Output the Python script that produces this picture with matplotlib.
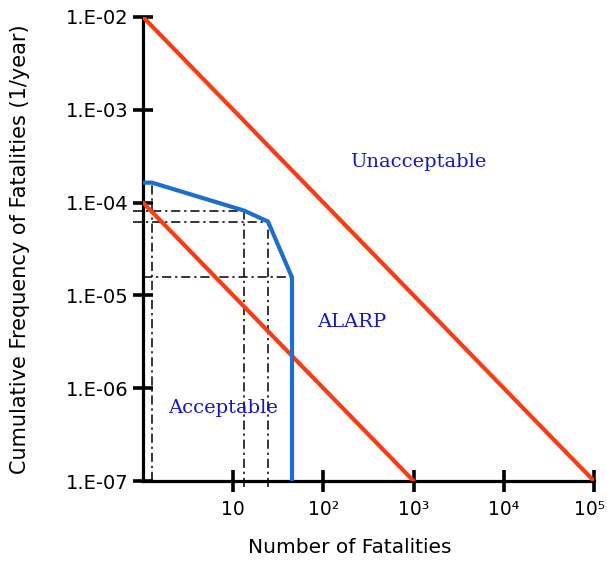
import matplotlib
matplotlib.use("Agg")
import matplotlib.pyplot as plt
import matplotlib.transforms as mtransforms
import numpy as np

# ---- data ----
upper_N = [1, 1e5]
upper_F = [1e-2, 1e-7]
lower_N = [1, 1e3]
lower_F = [1e-4, 1e-7]

fn_N = [1, 1.26, 13.2, 24.3, 44.9, 44.9]
fn_F = [1.64e-4, 1.64e-4, 8.2e-5, 6.25e-5, 1.56e-5, 1e-7]

xticks = [10, 1e2, 1e3, 1e4, 1e5]
xticklabels = ["10", "10²", "10³", "10⁴", "10⁵"]
yticks = [1e-7, 1e-6, 1e-5, 1e-4, 1e-3, 1e-2]
yticklabels = ["1.E-07", "1.E-06", "1.E-05", "1.E-04", "1.E-03", "1.E-02"]

RED = "#ff3a10"
BLUE = "#1c6fd2"
TXT = "#1515d0"

fig = plt.figure(figsize=(6.07, 5.63), dpi=100)
ax = fig.add_axes([143/607, 1-481/563, (594-143)/607, (481-17)/563])
ax.set_xscale("log")
ax.set_yscale("log")
ax.set_xlim(1, 1e5)
ax.set_ylim(1e-7, 1e-2)

ax.plot(upper_N, upper_F, color=RED, lw=3.0, solid_capstyle="round", zorder=3)
ax.plot(lower_N, lower_F, color=RED, lw=3.0, solid_capstyle="round", zorder=3)
ax.plot(fn_N, fn_F, color=BLUE, lw=3.0, zorder=4)

# dash-dot guides
over_x = 10 ** (-10 / 90.2)
over_y = 10 ** (-6 / 92.8)
ylo = ax.get_ylim()[0]
xlo = ax.get_xlim()[0]
dd = dict(color="black", lw=1.1, ls=(0, (6, 2.5, 1.5, 2.5)), zorder=2, clip_on=False)
# first point: vertical only
ax.plot([fn_N[1], fn_N[1]], [ylo, fn_F[1]], **dd)
# knees with overshoot
for i in (2, 3):
    ax.plot([xlo * over_x, fn_N[i]], [fn_F[i], fn_F[i]], **dd)
    ax.plot([fn_N[i], fn_N[i]], [ylo * over_y, fn_F[i]], **dd)
ax.plot([xlo, fn_N[4]], [fn_F[4], fn_F[4]], **dd)

# axes styling
for s in ("top", "right"):
    ax.spines[s].set_visible(False)
for s in ("left", "bottom"):
    ax.spines[s].set_linewidth(2.3)
    ax.spines[s].set_capstyle("projecting")
ax.minorticks_off()
ax.set_xticks(xticks)
ax.set_xticklabels(xticklabels)
ax.set_yticks(yticks)
ax.set_yticklabels(yticklabels)
ax.tick_params(axis="both", direction="inout", width=2.6, labelsize=14, colors="black")
ax.tick_params(axis="y", length=14.5, pad=3)
ax.tick_params(axis="x", length=16, pad=6, labelsize=13.5)

# keep the last x tick label inside the canvas
last = ax.get_xticklabels()[-1]
last.set_transform(last.get_transform() +
                   mtransforms.ScaledTranslation(-4 / 100, 0, fig.dpi_scale_trans))

ax.set_xlabel("Number of Fatalities", fontsize=14.5)
ax.xaxis.set_label_coords((350 - 143) / (594 - 143), -(538 - 481) / (481 - 17))
ax.set_ylabel("Cumulative Frequency of Fatalities (1/year)", fontsize=15)
ax.yaxis.set_label_coords(-(143 - 30) / (594 - 143), 0.5)

tfont = dict(family="DejaVu Serif", fontsize=14, color=TXT, ha="left", va="center")
ax.text(197, 2.74e-4, "Unacceptable", **tfont)
ax.text(85, 5.2e-6, "ALARP", **tfont)
ax.text(1.89, 6.1e-7, "Acceptable", **tfont)

fig.savefig("out.png", dpi=100)
